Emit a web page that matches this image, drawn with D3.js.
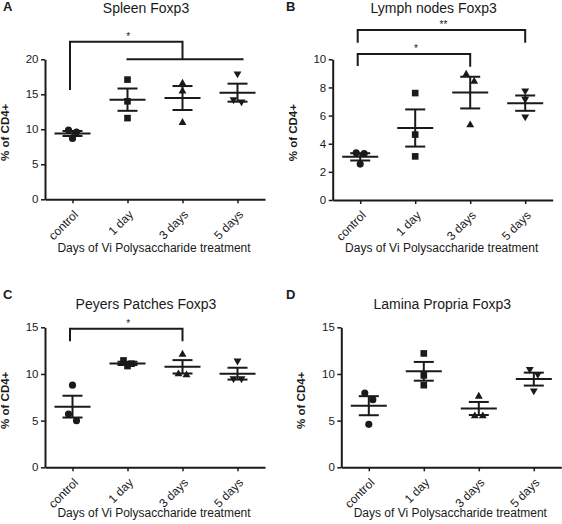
<!DOCTYPE html>
<html>
<head>
<meta charset="utf-8">
<script src="https://cdn.jsdelivr.net/npm/d3@7"></script>
<style>
  html, body { margin: 0; padding: 0; background: #fff; }
  svg { display: block; font-family: "Liberation Sans", Arial, sans-serif; }
</style>
</head>
<body>
<svg id="chart" width="562" height="524"></svg>
<script>
// ---------------- DATA ----------------
const categories = ["control", "1 day", "3 days", "5 days"];
const panelLetters = ["A", "B", "C", "D"];
const panelTitles = ["Spleen Foxp3", "Lymph nodes Foxp3", "Peyers Patches Foxp3", "Lamina Propria Foxp3"];
const yMaxes = [20, 10, 15, 15];
const yTickValues = [[0, 5, 10, 15, 20], [0, 2, 4, 6, 8, 10], [0, 5, 10, 15], [0, 5, 10, 15]];
const yLabel = "% of CD4+";
const xLabel = "Days of Vi Polysaccharide treatment";

const spleenValues = [[9.9, 9.6, 8.7], [17.1, 14.0, 11.6], [16.7, 15.6, 11.1], [17.8, 14.1, 13.8]];
const lymphValues = [[3.35, 3.3, 2.55], [7.6, 4.65, 3.1], [9.0, 8.5, 5.4], [7.7, 7.1, 5.85]];
const peyersValues = [[8.8, 5.7, 5.0], [11.45, 11.1, 10.85], [12.2, 10.1, 10.0], [11.3, 9.4, 9.4]];
const laminaValues = [[7.95, 7.25, 4.6], [12.2, 9.85, 8.8], [7.7, 5.6, 5.6], [10.4, 9.85, 8.1]];
const panelValues = [spleenValues, lymphValues, peyersValues, laminaValues];

// significance brackets (values in data units)
const spleenBrackets = [{ from: "control", to: "3 days", y: 22.5, leftEnd: 15.6, rightEnd: 20, label: "*" }];
const spleenGroupLines = [{ from: "1 day", to: "5 days", y: 20 }];
const lymphBrackets = [
  { from: "control", to: "5 days", y: 12.08, leftEnd: 11.18, rightEnd: 11.18, label: "**" },
  { from: "control", to: "3 days", y: 10.38, leftEnd: 9.52, rightEnd: 9.47, label: "*" }
];
const peyersBrackets = [{ from: "control", to: "3 days", y: 14.85, leftEnd: 13.5, rightEnd: 13.5, label: "*" }];
const panelBrackets = [spleenBrackets, lymphBrackets, peyersBrackets, []];
const panelGroupLines = [spleenGroupLines, [], [], []];

// ---------------- LAYOUT ----------------
const frames = [
  { left: 45, right: 265, top: 59.3, bottom: 199.3, xTitleY: 251.5 },
  { left: 332.7, right: 552.7, top: 59.3, bottom: 200, xTitleY: 251.5 },
  { left: 45, right: 265, top: 327.3, bottom: 467.3, xTitleY: 517 },
  { left: 341.3, right: 561.3, top: 327.3, bottom: 467.3, xTitleY: 517 }
];
const letterPos = [{ x: 3, y: 11 }, { x: 286, y: 11 }, { x: 3, y: 299 }, { x: 286, y: 299 }];
const titleY = [13, 13, 309, 309];
const ink = "#1a1a1a";
const shapes = ["circle", "square", "triangle", "invTriangle"];

const svg = d3.select("#chart");

function jitter(vals, y) {
  const order = vals.map((v, i) => i).sort((a, b) => vals[b] - vals[a]);
  const off = vals.map(() => 0);
  const paired = new Set();
  for (let k = 1; k < order.length; k++) {
    const a = order[k - 1], b = order[k];
    if (!paired.has(a) && Math.abs(y(vals[a]) - y(vals[b])) < 7.5) {
      off[a] = -4; off[b] = 4; paired.add(a); paired.add(b);
    }
  }
  return off;
}

function symbolPath(sh) {
  if (sh === "circle") return d3.symbol(d3.symbolCircle, 40)();
  if (sh === "square") return d3.symbol(d3.symbolSquare, 44)();
  return d3.symbol(d3.symbolTriangle, 27)();
}

panelValues.forEach((groups, p) => {
  const f = frames[p];
  const g = svg.append("g");
  const x = d3.scalePoint().domain(categories).range([f.left, f.right]).padding(0.5);
  const y = d3.scaleLinear().domain([0, yMaxes[p]]).range([f.bottom, f.top]);

  // letter & title
  g.append("text").attr("x", letterPos[p].x).attr("y", letterPos[p].y)
    .attr("font-size", 13).attr("font-weight", "bold").attr("fill", ink).text(panelLetters[p]);
  g.append("text").attr("x", (f.left + f.right) / 2 - 9).attr("y", titleY[p])
    .attr("text-anchor", "middle").attr("font-size", 14).attr("fill", ink).text(panelTitles[p]);

  // y axis
  const yAxis = d3.axisLeft(y).tickValues(yTickValues[p]).tickSize(4).tickSizeOuter(0).tickPadding(2.5);
  const ya = g.append("g").attr("transform", `translate(${f.left},0)`).call(yAxis);
  ya.select(".domain").attr("stroke", ink).attr("stroke-width", 2);
  ya.selectAll(".tick line").attr("stroke", ink).attr("stroke-width", 1.5);
  ya.selectAll(".tick text").attr("font-size", 11.5).attr("fill", ink).attr("font-family", "Liberation Sans, Arial, sans-serif");

  // x axis
  const xAxis = d3.axisBottom(x).tickSize(4).tickSizeOuter(0);
  const xa = g.append("g").attr("transform", `translate(0,${f.bottom})`).call(xAxis);
  xa.select(".domain").attr("stroke", ink).attr("stroke-width", 2);
  xa.selectAll(".tick line").attr("stroke", ink).attr("stroke-width", 1.5);
  xa.selectAll(".tick text")
    .attr("font-size", 12).attr("fill", ink).attr("font-family", "Liberation Sans, Arial, sans-serif")
    .attr("text-anchor", "end").attr("y", 0).attr("dy", "0.35em")
    .attr("transform", "translate(3,13) rotate(-45)");

  // axis titles
  g.append("text").attr("transform", `translate(${f.left - 36},${(f.top + f.bottom) / 2 + 3}) rotate(-90)`)
    .attr("text-anchor", "middle").attr("font-size", 11.5).attr("font-weight", "bold").attr("fill", ink).text(yLabel);
  g.append("text").attr("x", (f.left + f.right) / 2 - 1).attr("y", f.xTitleY)
    .attr("text-anchor", "middle").attr("font-size", 12).attr("fill", ink).text(xLabel);

  // points & mean ± SEM
  groups.forEach((vals, c) => {
    const cx = x(categories[c]);
    const mean = d3.mean(vals);
    const sem = d3.deviation(vals) / Math.sqrt(vals.length);
    const offs = jitter(vals, y);
    const sh = shapes[c];
    vals.forEach((v, i) => {
      const rot = sh === "invTriangle" ? 180 : 0;
      const dy = sh === "triangle" ? 1 : (sh === "invTriangle" ? -1 : 0);
      g.append("path").attr("d", symbolPath(sh))
        .attr("transform", `translate(${cx + offs[i]},${y(v) + dy}) rotate(${rot})`)
        .attr("fill", ink);
    });
    const line = (x1, x2, y1, y2) => g.append("line").attr("x1", x1).attr("x2", x2).attr("y1", y1).attr("y2", y2)
      .attr("stroke", ink).attr("stroke-width", 2);
    line(cx - 18, cx + 18, y(mean), y(mean));
    line(cx - 10, cx + 10, y(mean + sem), y(mean + sem));
    line(cx - 10, cx + 10, y(mean - sem), y(mean - sem));
    line(cx, cx, y(mean + sem), y(mean - sem));
  });

  // brackets
  panelBrackets[p].forEach(b => {
    const x1 = x(b.from) - 2.5, x2 = x(b.to);
    g.append("path")
      .attr("d", `M${x1},${y(b.leftEnd)}V${y(b.y)}H${x2}V${y(b.rightEnd)}`)
      .attr("fill", "none").attr("stroke", ink).attr("stroke-width", 2);
    g.append("text").attr("x", (x1 + x2) / 2 + 2).attr("y", y(b.y) - 2)
      .attr("text-anchor", "middle").attr("font-size", 10).attr("fill", ink).text(b.label);
  });
  panelGroupLines[p].forEach(l => {
    g.append("line").attr("x1", x(l.from) - 1).attr("x2", x(l.to) + 6)
      .attr("y1", y(l.y)).attr("y2", y(l.y)).attr("stroke", ink).attr("stroke-width", 2);
  });
});
</script>
</body>
</html>
